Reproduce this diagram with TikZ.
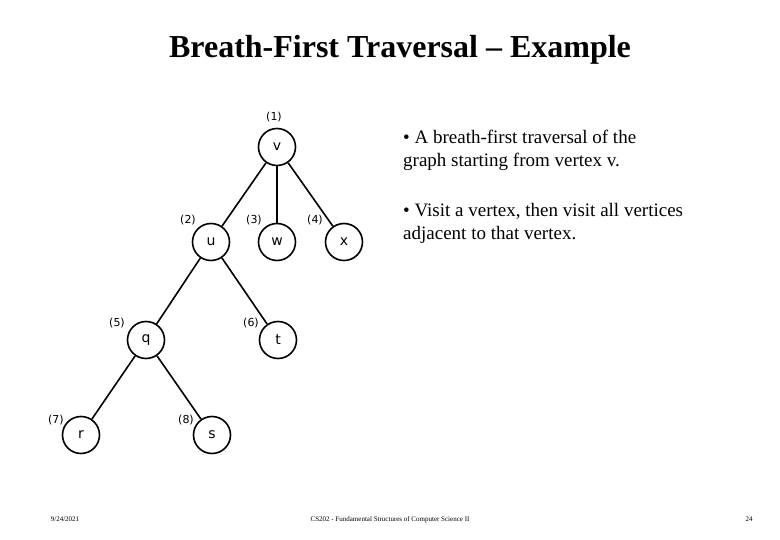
\documentclass[tikz,border=0pt]{standalone}
\usepackage{fontspec}
\setmainfont{Liberation Serif}
\newfontfamily\graphfont{DejaVu Sans}
\begin{document}
\begin{tikzpicture}[x=1pt,y=-1pt,
  vtx/.style={circle,draw,line width=1.6pt,minimum size=37pt,inner sep=0pt,font=\graphfont\fontsize{14}{16}\selectfont},
  ord/.style={font=\graphfont\fontsize{11}{13}\selectfont},
  edge/.style={line width=1.6pt},
  foot/.style={anchor=base,font=\fontsize{7}{8}\selectfont}]
\useasboundingbox (0,0) rectangle (780,540);
\node[font=\bfseries\fontsize{32}{36}\selectfont] (title) at (400,50) {Breath-First Traversal -- Example};
\node (v) [vtx] at (277,147) {v};
\node (u) [vtx] at (211,242) {u};
\node (w) [vtx] at (277,242) {w};
\node (x) [vtx] at (344,242) {x};
\node (q) [vtx] at (146,340) {q};
\node (t) [vtx] at (278,340) {t};
\node (r) [vtx] at (81,435) {r};
\node (s) [vtx] at (212,435) {s};
\node[ord] (l1) at (274,117) {(1)};
\node[ord] (l2) at (188,220) {(2)};
\node[ord] (l3) at (254,220) {(3)};
\node[ord] (l4) at (315,220) {(4)};
\node[ord] (l5) at (117,323) {(5)};
\node[ord] (l6) at (251,323) {(6)};
\node[ord] (l7) at (56,420) {(7)};
\node[ord] (l8) at (186,420) {(8)};
\draw[edge] (v) -- (u);
\draw[edge] (v) -- (w);
\draw[edge] (v) -- (x);
\draw[edge] (u) -- (q);
\draw[edge] (u) -- (t);
\draw[edge] (q) -- (r);
\draw[edge] (q) -- (s);
\node[anchor=north west,align=left,inner sep=0pt,font=\fontsize{19}{23}\selectfont] (b1) at (403,130) {\textbullet{} A breath-first traversal of the\\graph starting from vertex v.};
\node[anchor=north west,align=left,inner sep=0pt,font=\fontsize{19}{23}\selectfont] (b2) at (403,203) {\textbullet{} Visit a vertex, then visit all vertices\\adjacent to that vertex.};
\node[foot] (date) at (65,521) {9/24/2021};
\node[foot] (course) at (390,521) {CS202 - Fundamental Structures of Computer Science II};
\node[foot] (page) at (749,521) {24};
\end{tikzpicture}
\end{document}
